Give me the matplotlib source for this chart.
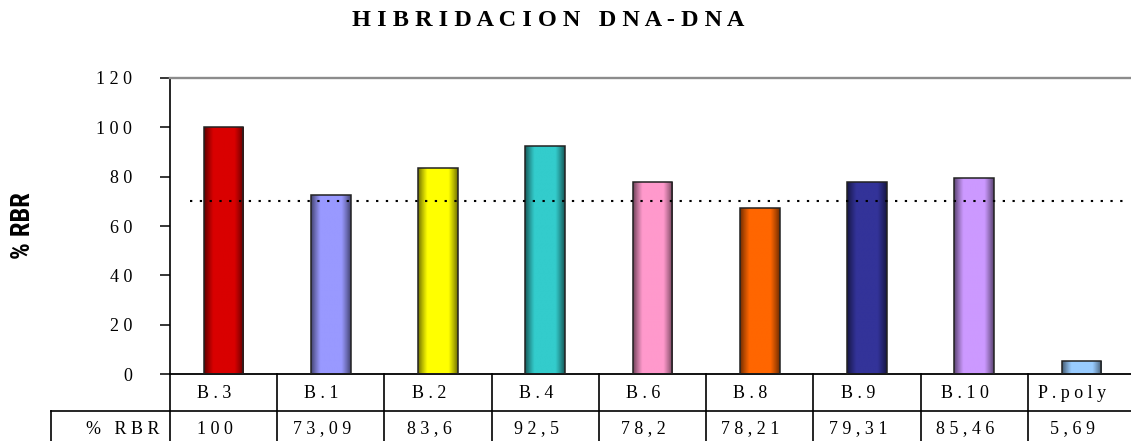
import numpy as np
import matplotlib
matplotlib.use("Agg")
import matplotlib.pyplot as plt
from matplotlib import font_manager
from matplotlib.transforms import blended_transform_factory

# Data
categories = ["B.3", "B.1", "B.2", "B.4", "B.6", "B.8", "B.9", "B.10", "P.poly"]
bar_heights = [100, 72.7, 83.6, 92.5, 77.9, 67.4, 77.9, 79.4, 5.4]
table_values = ["100", "73,09", "83,6", "92,5", "78,2", "78,21", "79,31", "85,46", "5,69"]
row_label = "% RBR"
threshold = 70
yticks = [0, 20, 40, 60, 80, 100, 120]

colors = ["#d90000", "#9999ff", "#ffff00", "#33cccc", "#ff99cc",
          "#ff6600", "#333399", "#cc99ff", "#99ccff"]

SERIF = ["Liberation Serif", "DejaVu Serif"]

# pick a narrow bold sans for the axis title if one is installed
installed = {f.name for f in font_manager.fontManager.ttflist}
NARROW = [n for n in ["Liberation Sans Narrow", "Roboto Condensed", "Open Sans Condensed"]
          if n in installed] + ["DejaVu Sans"]


def spaced(s, gap=" "):
    # letter-spaced look of the original
    return gap.join(s).replace(gap + " " + gap, "   ")


W, H = 1131, 441
fig = plt.figure(figsize=(W / 100, H / 100), dpi=100)

ax_left, ax_right = 170, 1135
ax_top, ax_base = 77.7, 374.3
ax = fig.add_axes([ax_left / W, (H - ax_base) / H,
                   (ax_right - ax_left) / W, (ax_base - ax_top) / H])

x = np.arange(len(categories))
bw = 0.37
bars = ax.bar(x, bar_heights, bw, facecolor="none", edgecolor="#222222",
              linewidth=1.1, zorder=3)

# cylinder-like shading inside each bar
t = np.linspace(0, 1, 64)
prof = 0.45 + 0.55 * np.clip(np.sin(np.pi * t) * 1.5, 0, 1)
for b, c in zip(bars, colors):
    rgb = np.array(matplotlib.colors.to_rgb(c))
    img = (prof[:, None] * rgb[None, :])[None, :, :]
    im = ax.imshow(img, extent=(b.get_x(), b.get_x() + b.get_width(), 0, b.get_height()),
                   aspect="auto", zorder=2, interpolation="bilinear")
    im.set_clip_path(b)

ax.hlines(threshold, -0.31, 8.41, colors="black", linewidth=1.5,
          linestyles=(0, (1.1, 3.6)), zorder=4)

ax.set_xlim(-0.5, 8.5)
ax.set_ylim(0, 120)
ax.set_xticks([])
ax.set_yticks(yticks)
ax.set_yticklabels([spaced(str(v)) for v in yticks], fontfamily=SERIF, fontsize=13)
ax.tick_params(axis="y", direction="out", length=7.2, width=1.1, pad=20, colors="black")

ax.spines["right"].set_visible(False)
ax.spines["top"].set_color("#8c8c8c")
ax.spines["top"].set_linewidth(1.7)
ax.spines["left"].set_linewidth(1.2)
ax.spines["bottom"].set_linewidth(1.3)

# data table under the axis
trans = blended_transform_factory(ax.transData, ax.transAxes)
col_w = (ax_right - ax_left) / len(categories)


def yfrac(p):
    return (ax_base - p) / (ax_base - ax_top)


def xdata(p):
    return (p - ax_left) / col_w - 0.5


row1_bot = 411
fig_bot = H + 5
lk = dict(color="black", linewidth=1.2, transform=trans, clip_on=False)
ax.plot([xdata(51), 8.5], [yfrac(row1_bot)] * 2, **lk)
for k in range(len(categories) + 1):
    ax.plot([k - 0.5, k - 0.5], [0, yfrac(fig_bot)], **lk)
ax.plot([xdata(51)] * 2, [yfrac(row1_bot), yfrac(fig_bot)], **lk)

for i, (cat, val) in enumerate(zip(categories, table_values)):
    ax.text(i - 0.085, yfrac(394), spaced(cat), transform=trans, ha="center",
            va="center", fontfamily=SERIF, fontsize=13)
    ax.text(i - 0.085, yfrac(429), spaced(val), transform=trans, ha="center",
            va="center", fontfamily=SERIF, fontsize=13)
ax.text(xdata(123), yfrac(429), spaced(row_label), transform=trans, ha="center",
        va="center", fontfamily=SERIF, fontsize=13)

fig.text(548 / W, 1 - 21 / H, spaced("HIBRIDACION DNA-DNA"), ha="center", va="center",
         fontfamily=SERIF, fontweight="bold", fontsize=17.5)
fig.text(23 / W, 1 - 226 / H, row_label, rotation=90, ha="center", va="center",
         fontfamily=NARROW, fontweight="bold", fontstretch="condensed", fontsize=19)

fig.savefig("out.png", dpi=100)
